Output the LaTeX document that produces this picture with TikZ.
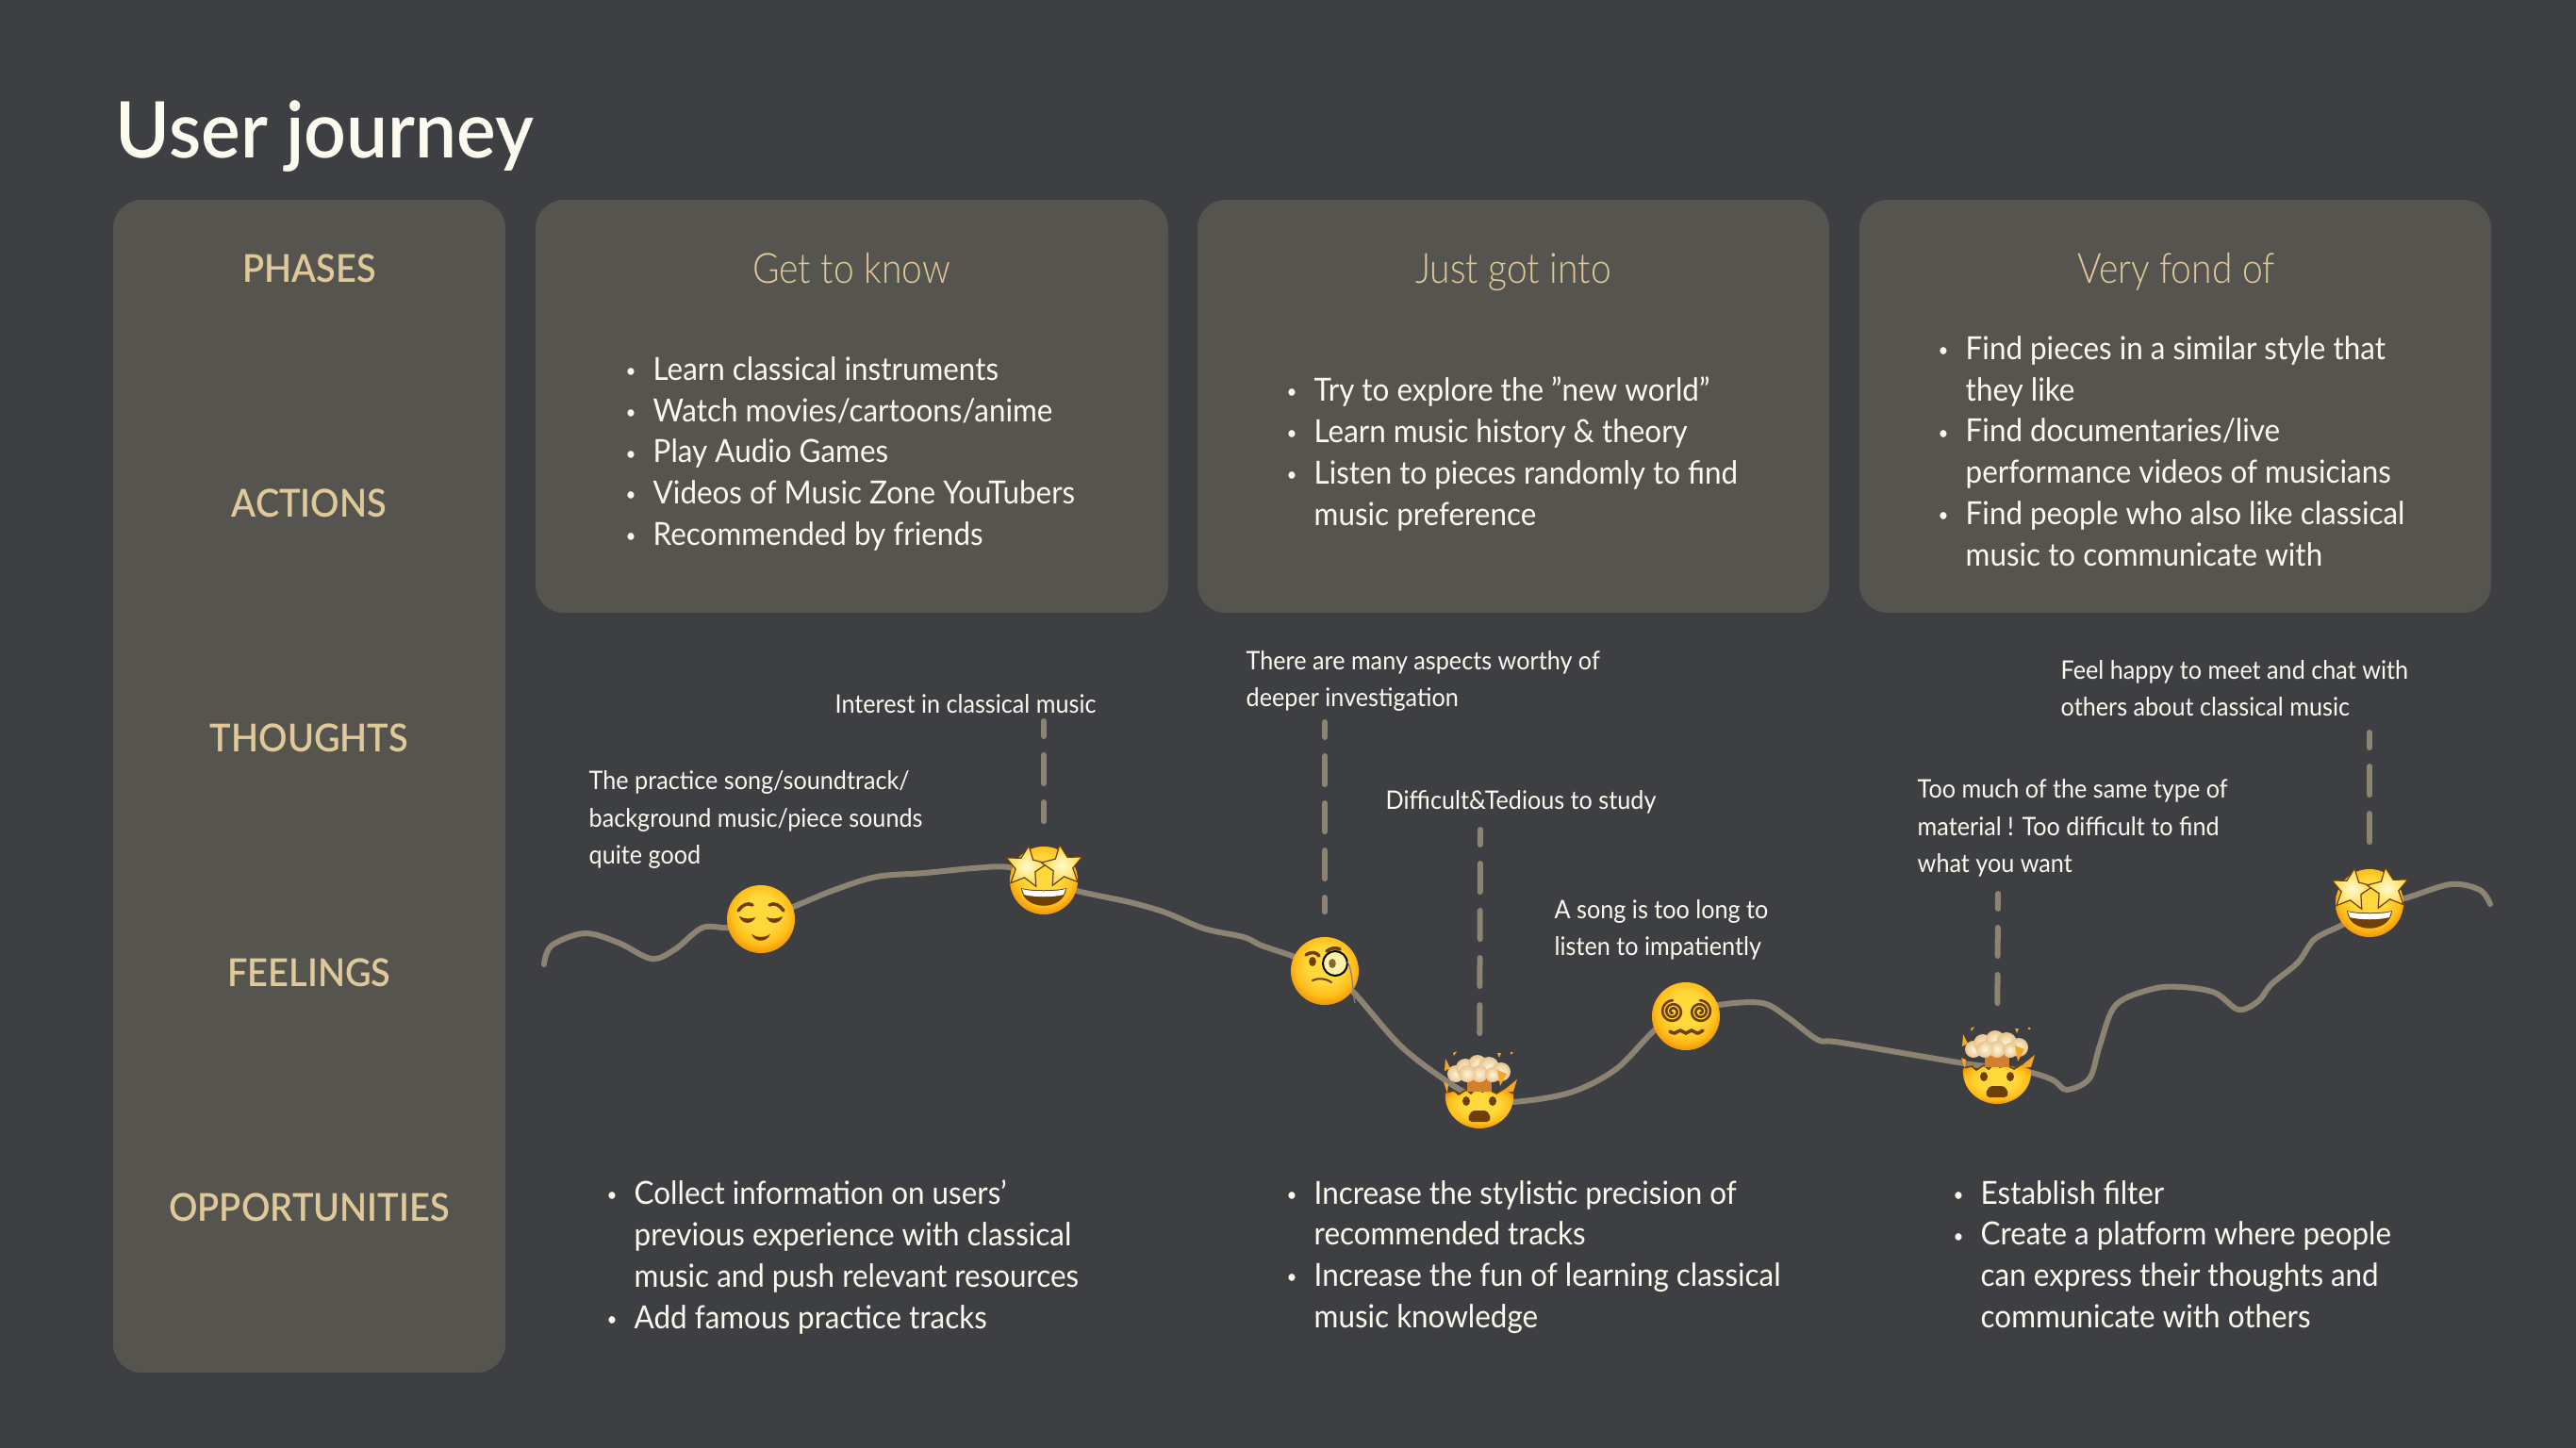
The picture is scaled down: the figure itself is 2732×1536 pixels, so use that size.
\documentclass[tikz,border=0pt]{standalone}
\usepackage{fontspec}
\setmainfont{Lato}[FakeStretch=0.93]
\newfontfamily\medfont{Lato Semibold}[FakeStretch=0.93]
\newfontfamily\titlefont{Lato Semibold}[FakeStretch=0.95]
\newfontfamily\headfont{Lato Light}[FakeStretch=0.88]
\newfontfamily\thinkfont{Lato}[FakeStretch=0.93]
\usetikzlibrary{shapes.geometric, positioning}

\definecolor{bgdark}{HTML}{3E3F43}
\definecolor{panelgrey}{HTML}{55544F}
\definecolor{headtan}{HTML}{E0C999}
\definecolor{softwhite}{HTML}{FDFBF0}
\definecolor{pathtan}{HTML}{8C8372}
\definecolor{eyebrown}{HTML}{6E3F06}
\definecolor{facey}{HTML}{FFD83C}
\definecolor{facem}{HTML}{FFBE1A}
\definecolor{faceo}{HTML}{F08A08}
\definecolor{creamy}{HTML}{FFF6DC}
\definecolor{creamo}{HTML}{E9C48E}
\definecolor{starin}{HTML}{FFFBD0}
\definecolor{starout}{HTML}{FFD740}
\definecolor{shardo}{HTML}{F5A623}

\pgfdeclareradialshading{facefill}{\pgfpoint{0bp}{6bp}}{
    color(0bp)=(facey); color(13bp)=(facey); color(22bp)=(facem);
    color(29bp)=(faceo); color(50bp)=(faceo)}

\newcommand{\bl}{\makebox[0.29cm][l]{\raisebox{0.8pt}{\scalebox{0.6}{\textbullet}}}}
\newcommand{\ind}{\hspace*{0.29cm}}

\tikzset{
    panel/.style={fill=panelgrey, rounded corners=0.3cm},
    rowlabel/.style={text=headtan, font=\medfont\fontsize{11.6pt}{14pt}\selectfont, anchor=base, inner sep=0},
    phasehead/.style={text=headtan, font=\headfont\fontsize{12.6pt}{15pt}\selectfont, anchor=base, inner sep=0},
    listtext/.style={text=softwhite, font=\fontsize{9.6pt}{12.47pt}\selectfont, align=left, anchor=west, inner sep=0,
                     execute at begin node=\strut, execute at end node=\strut},
    thought/.style={text=softwhite, font=\thinkfont\fontsize{7.7pt}{11.2pt}\selectfont, align=left, anchor=west, inner sep=0,
                    execute at begin node=\strut, execute at end node=\strut},
    face/.style={circle, inner sep=0, minimum size=0.72cm, shading=facefill},
    blownface/.style={circle, inner sep=0, minimum size=0.72cm},
    eyestar/.style={star, star points=5, star point ratio=2.1, minimum size=0.46cm, inner sep=0,
                    draw=eyebrown, line width=0.012cm, inner color=starin, outer color=starout},
    journey/.style={draw=pathtan, line width=0.06cm, line cap=round, line join=round},
    dashline/.style={draw=pathtan, line width=0.06cm, line cap=round,
                     dash pattern=on 0.3cm off 0.2cm, dash phase=0.14cm, shorten >=0.26cm},
    featline/.style={draw=eyebrown, line width=0.035cm, line cap=round},
    pics/relievedface/.style={code={
        \fill[eyebrown] (-23,-3) .. controls (-17,0) and (-11,0) .. (-6,-2) .. controls (-9,6) and (-20,6) .. cycle;
        \fill[eyebrown] (23,-3) .. controls (17,0) and (11,0) .. (6,-2) .. controls (9,6) and (20,6) .. cycle;
        \draw[featline] (-24,-9) .. controls (-20,-15) and (-14,-18) .. (-9,-15);
        \draw[featline] (24,-9) .. controls (20,-15) and (14,-18) .. (9,-15);
        \fill[eyebrown] (-10,16) .. controls (-4,20) and (4,20) .. (10,16) .. controls (6,25) and (-6,25) .. cycle;
    }},
    pics/starface/.style={code={
        \fill[eyebrown] (-24,8) .. controls (-15,11) and (15,11) .. (24,8) .. controls (22,33) and (-22,33) .. cycle;
        \fill[white] (-23,9) .. controls (-15,12) and (15,12) .. (23,9) -- (21,15) .. controls (10,18) and (-10,18) .. (-21,15) -- cycle;
        \node[eyestar, rotate=-8] (staL) at (-19,-14) {};
        \node[eyestar, rotate=8] (staR) at (20,-15) {};
    }},
    pics/monocleface/.style={code={
        \fill[eyebrown] (-13,-10) ellipse (3.8 and 5);
        \draw[featline] (-20,-17) .. controls (-14,-21) and (-9,-20) .. (-6,-16);
        \draw[featline] (2,-21) .. controls (7,-25) and (12,-25) .. (16,-23);
        \draw[featline, line width=0.02cm] (-13,10) .. controls (-7,7) and (2,8) .. (7,12);
        \draw[fill=starin, fill opacity=0.75, draw=black, line width=0.02cm] (11,-8) circle (13);
        \fill[eyebrown!80] (8,-8) ellipse (3.8 and 5);
        \draw[gray, line width=0.012cm] (24,-10) .. controls (30,0) and (29,20) .. (32,34);
    }},
    pics/dizzyface/.style={code={
        \draw[featline, line width=0.026cm] plot[domain=0:900, samples=70, smooth] ({-14+(1.5+0.0115*\x)*cos(\x+90)},{-5+(1.5+0.0115*\x)*sin(\x+90)});
        \draw[featline, line width=0.026cm] plot[domain=0:900, samples=70, smooth] ({15+(1.5+0.0115*\x)*cos(90-\x)},{-5+(1.5+0.0115*\x)*sin(90-\x)});
        \draw[featline] plot[smooth, tension=0.7] coordinates {(-17,16) (-12,18) (-6,15) (0,18) (6,15) (12,18) (18,15)};
    }},
    pics/blownhead/.style={code={
        \shade[shading=facefill] (-36,-2) -- (-27,-4) -- (-22,0) -- (-14,-5) -- (-9,-1) -- (-3,-7) -- (3,-3)
            -- (10,-5) -- (18,-1) -- (26,-6) -- (36,-1)
            .. controls (38,20) and (20,36) .. (0,36) .. controls (-20,36) and (-38,20) .. (-36,-2) -- cycle;
        \draw[eyebrown, line width=0.015cm] (-36,-2) -- (-27,-4) -- (-22,0) -- (-14,-5) -- (-9,-1) -- (-3,-7)
            -- (3,-3) -- (10,-5) -- (18,-1) -- (26,-6) -- (36,-1);
        \fill[eyebrown] (-14,7) ellipse (4 and 5);
        \fill[eyebrown] (14,7) ellipse (4 and 5);
        \fill[eyebrown] (-8,29) .. controls (-14,29) and (-12,18) .. (-5,17) -- (5,17)
            .. controls (12,18) and (14,29) .. (8,29) -- cycle;
        \fill[brown!70!orange] (-13,-16) rectangle (13,-3);
        \foreach \cx/\cy/\cr in {-25/-22/9, -15/-28/10, -2/-32/10, 10/-29/11, 23/-24/10, 0/-22/9, -13/-22/9, 14/-21/8}{
            \shade[inner color=creamy, outer color=creamo] (\cx,\cy) circle (\cr);
        }
        \fill[shardo] (-36,-38) -- (-31,-28) -- (-37,-25) -- cycle;
        \fill[shardo] (-38,-13) -- (-33,-11) -- (-34,-1) -- cycle;
        \fill[shardo] (19,-26) -- (29,-22) -- (22,-9) -- cycle;
        \fill[shardo] (40,-16) -- (36,-3) -- (24,-3) -- cycle;
        \fill[shardo] (-28,-44) -- (-24,-46) -- (-27,-41) -- cycle;
        \fill[shardo] (19,-44) -- (23,-44) -- (21,-39) -- cycle;
        \fill[shardo] (34,-44) circle (1.5);
    }}
}

\begin{document}
\begin{tikzpicture}[x=0.01cm, y=-0.01cm]
    \useasboundingbox[fill=bgdark] (0,0) rectangle (2732,1536);

    \node[text=softwhite, font=\titlefont\fontsize{23.5pt}{28pt}\selectfont, anchor=base west, inner sep=0] (title) at (122,167) {User journey};

    % panels
    \path[panel] (120,212) rectangle (536,1456);
    \path[panel] (568,212) rectangle (1239,650);
    \path[panel] (1270,212) rectangle (1940,650);
    \path[panel] (1972,212) rectangle (2642,650);

    % left column
    \node[rowlabel] (phases) at (328,299) {PHASES};
    \node[rowlabel] (actions) at (328,548) {ACTIONS};
    \node[rowlabel] (thoughts) at (328,797) {THOUGHTS};
    \node[rowlabel] (feelings) at (328,1046) {FEELINGS};
    \node[rowlabel] (opps) at (328,1295) {OPPORTUNITIES};

    % phase boxes
    \node[phasehead] (know) at (903,300) {Get to know};
    \node[phasehead] (into) at (1605,300) {Just got into};
    \node[phasehead] (fond) at (2308,300) {Very fond of};

    \node[listtext] (act1) at (663,485) {\bl Learn classical instruments\\ \bl Watch movies/cartoons/anime\\ \bl Play Audio Games\\ \bl Videos of Music Zone YouTubers\\ \bl Recommended by friends};
    \node[listtext] (act2) at (1364,485) {\bl Try to explore the ”new world”\\ \bl Learn music history \& theory\\ \bl Listen to pieces randomly to find\\ \ind music preference};
    \node[listtext] (act3) at (2055,485) {\bl Find pieces in a similar style that\\ \ind they like\\ \bl Find documentaries/live\\ \ind performance videos of musicians\\ \bl Find people who also like classical\\ \ind music to communicate with};

    % feelings curve
    \draw[journey] plot[smooth, tension=0.55] coordinates {(577,1023) (585,1003) (620,990) (656,1000) (691,1017) (716,1007) (745,984) (774,984)
        (807,975) (841,962) (885,944) (930,930) (981,926) (1032,921) (1070,920) (1107,933) (1142,945) (1198,957) (1236,968)
        (1277,985) (1319,994) (1338,1003) (1373,1015) (1405,1030) (1434,1051) (1485,1109) (1536,1148) (1568,1165)
        (1604,1169) (1665,1159) (1714,1134) (1757,1091) (1788,1077) (1823,1066) (1869,1064) (1897,1080) (1928,1103)
        (1953,1106) (2083,1128) (2119,1132) (2155,1138) (2178,1146) (2192,1156) (2216,1144) (2227,1109) (2244,1066)
        (2283,1049) (2314,1047) (2349,1053) (2374,1071) (2395,1062) (2409,1044) (2437,1021) (2455,996) (2486,980)
        (2513,960) (2550,953) (2599,938) (2630,944) (2641,959)};

    % emoji on the curve
    \node[face] (relief) at (807,975) {};
    \pic at (relief) {relievedface};
    \node[face] (starA) at (1107,934) {};
    \pic at (starA) {starface};
    \node[face] (mono) at (1405,1030) {};
    \pic at (mono) {monocleface};
    \node[blownface] (blownA) at (1569,1161) {};
    \pic at (blownA) {blownhead};
    \node[face] (dizzy) at (1788,1078) {};
    \pic at (dizzy) {dizzyface};
    \node[blownface] (blownB) at (2118,1135) {};
    \pic at (blownB) {blownhead};
    \node[face] (starB) at (2513,958) {};
    \pic at (starB) {starface};

    % dash tops
    \coordinate (dashA) at (1107,765);
    \coordinate (dashB) at (1405,766);
    \coordinate (dashC) at (1570,880);
    \coordinate (dashD) at (2119,948);
    \coordinate (dashE) at (2513,777);

    \draw[dashline] (dashA) -- (starA);
    \draw[dashline] (dashB) -- (mono);
    \draw[dashline] (dashC) -- (blownA);
    \draw[dashline] (dashD) -- (blownB);
    \draw[dashline] (dashE) -- (starB);

    % thoughts
    \node[thought] (tA) at (624,873) {The practice song/soundtrack/\\background music/piece sounds\\quite good};
    \node[thought] (tB) at (885,749) {Interest in classical music};
    \node[thought] (tC) at (1321,726) {There are many aspects worthy of\\deeper investigation};
    \node[thought] (tD) at (1469,851) {Difficult\&Tedious to study};
    \node[thought] (tE) at (1648,990) {A song is too long to\\listen to impatiently};
    \node[thought] (tF) at (2033,882) {Too much of the same type of\\material ! Too difficult to find\\what you want};
    \node[thought] (tG) at (2185,736) {Feel happy to meet and chat with\\others about classical music};

    % opportunities
    \node[listtext] (oppA) at (643,1337) {\bl Collect information on users’\\ \ind previous experience with classical\\ \ind music and push relevant resources\\ \bl Add famous practice tracks};
    \node[listtext] (oppB) at (1364,1337) {\bl Increase the stylistic precision of\\ \ind recommended tracks\\ \bl Increase the fun of learning classical\\ \ind music knowledge};
    \node[listtext] (oppC) at (2071,1337) {\bl Establish filter\\ \bl Create a platform where people\\ \ind can express their thoughts and\\ \ind communicate with others};
\end{tikzpicture}
\end{document}
